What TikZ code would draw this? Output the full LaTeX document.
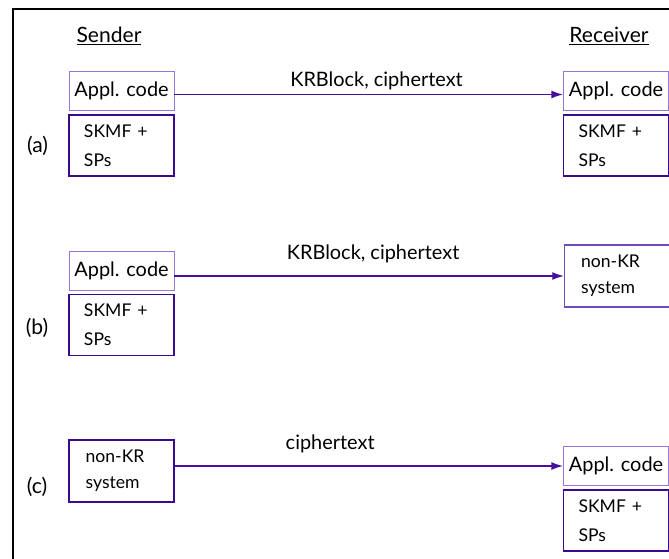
\documentclass[tikz,border=0pt]{standalone}
\usepackage{fontspec}
\setmainfont{Lato}
\usetikzlibrary{arrows.meta}
\definecolor{hell}{RGB}{150,120,210}
\definecolor{mittel}{RGB}{110,75,190}
\definecolor{dunkel}{RGB}{60,10,140}
\definecolor{pfeil}{RGB}{70,15,160}
\tikzset{
	appl/.style={draw=hell, line width=0.8pt, minimum width=3.15cm, minimum height=1.17cm, inner sep=0pt, font=\fontsize{17}{20}\selectfont},
	skmf/.style={draw=dunkel, line width=1.6pt, minimum width=3.15cm, minimum height=1.83cm, inner xsep=0.45cm, text width=2.25cm, align=left, font=\fontsize{15}{25}\selectfont},
	nonkr/.style={draw=dunkel, line width=1.6pt, minimum width=3.15cm, minimum height=1.86cm, inner xsep=0.5cm, text width=2.15cm, align=left, font=\fontsize{15}{22}\selectfont},
	titel/.style={font=\fontsize{18}{20}\selectfont},
	fall/.style={font=\fontsize{18}{20}\selectfont},
	msg/.style={above, font=\fontsize{17}{20}\selectfont},
	pfeil/.style={draw=pfeil, line width=1.1pt, -{Latex[length=3.5mm,width=2.4mm]}}
}
\begin{document}
\begin{tikzpicture}[x=0.03cm, y=-0.03cm]
	\useasboundingbox (0,0) rectangle (669,559);
	\draw[line width=2.5pt] (13,559) -- (13,9) -- (669,9);%Rahmen
	\node[titel] (sender) at (109,36) {\underline{Sender}};
	\node[titel] (receiver) at (609,36) {\underline{Receiver}};

	%%%%%% (a)
	\node[fall] (la) at (37.5,146) {(a)};
	\node[appl] (sa) at (121.5,90.5) {Appl. code};
	\node[skmf] (sa2) at (121.5,145.5) {SKMF +\\SPs};
	\node[appl] (ra) at (616,90.5) {Appl. code};
	\node[skmf] (ra2) at (616,145.5) {SKMF +\\SPs};
	\draw[pfeil] ([yshift=-3.4pt]sa.east) -- node[msg, pos=0.52] {KRBlock, ciphertext} ([yshift=-3.4pt]ra.west);

	%%%%%% (b)
	\node[fall] (lb) at (37,328) {(b)};
	\node[appl] (sb) at (121.5,270.5) {Appl. code};
	\node[skmf] (sb2) at (121.5,325) {SKMF +\\SPs};
	\node[nonkr, draw=mittel, line width=1pt] (rb) at (617,276) {non-KR\\system};
	\draw[pfeil] (rb.west -| sb.east) -- node[msg, above=7pt, pos=0.51] {KRBlock, ciphertext} (rb.west);

	%%%%%% (c)
	\node[fall] (lc) at (37,487) {(c)};
	\node[nonkr] (sc) at (121.5,471) {non-KR\\system};
	\node[appl] (rc) at (616,466) {Appl. code};
	\node[skmf] (rc2) at (616,520.5) {SKMF +\\SPs};
	\draw[pfeil] (rc.west -| sc.east) -- node[msg, above=7pt, pos=0.40] {ciphertext} (rc);
\end{tikzpicture}
\end{document}
